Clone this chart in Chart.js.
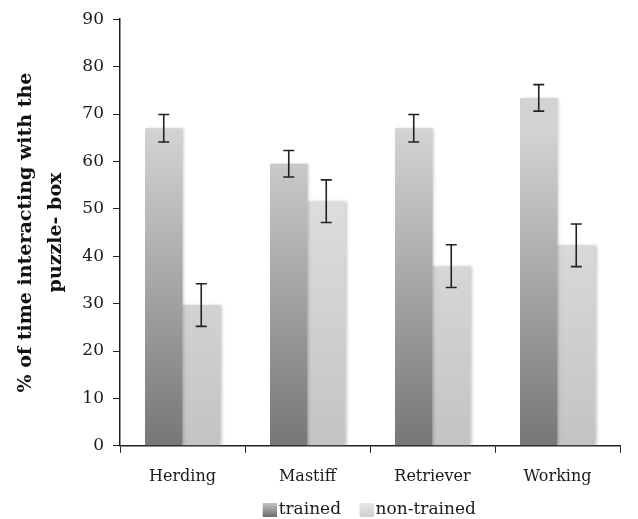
<!DOCTYPE html>
<html>
<head>
<meta charset="utf-8">
<script src="https://cdn.jsdelivr.net/npm/chart.js@4"></script>
<style>
  html, body { margin: 0; padding: 0; background: #fff; }
  #wrap { width: 638px; height: 519px; }
</style>
</head>
<body>
<div id="wrap"><canvas id="chart"></canvas></div>
<script>
const categories = ['Herding', 'Mastiff', 'Retriever', 'Working'];
const trained = [67.0, 59.5, 67.0, 73.4];
const trainedErr = [2.9, 2.8, 2.9, 2.8];
const nonTrained = [29.7, 51.6, 37.9, 42.3];
const nonTrainedErr = [4.5, 4.5, 4.5, 4.5];
const yTicks = [0, 10, 20, 30, 40, 50, 60, 70, 80, 90];

const FONT = "'DejaVu Serif', serif";

function barGradient(ctx, area, dark, light) {
  const g = ctx.createLinearGradient(0, area.bottom, 0, area.top + 110);
  g.addColorStop(0, dark);
  g.addColorStop(1, light);
  return g;
}

// legend swatch: 14px box at the right end of a wider transparent image,
// so it sits close to its text with more room before it
function legendBox(dark, light) {
  const c = document.createElement('canvas');
  c.width = 35; c.height = 14;
  const x = c.getContext('2d');
  const g = x.createLinearGradient(0, 14, 0, 0);
  g.addColorStop(0, dark);
  g.addColorStop(1, light);
  x.fillStyle = g;
  x.fillRect(21, 0, 14, 14);
  return c;
}

const errorBars = {
  id: 'errorBars',
  afterDatasetsDraw(chart) {
    const ctx = chart.ctx;
    const y = chart.scales.y;
    ctx.save();
    ctx.strokeStyle = '#222';
    ctx.lineWidth = 1.6;
    chart.data.datasets.forEach((ds, i) => {
      const meta = chart.getDatasetMeta(i);
      meta.data.forEach((bar, j) => {
        const top = y.getPixelForValue(ds.data[j] + ds.errors[j]);
        const bot = y.getPixelForValue(ds.data[j] - ds.errors[j]);
        const x = bar.x;
        ctx.beginPath();
        ctx.moveTo(x, top); ctx.lineTo(x, bot);
        ctx.moveTo(x - 5.5, top); ctx.lineTo(x + 5.5, top);
        ctx.moveTo(x - 5.5, bot); ctx.lineTo(x + 5.5, bot);
        ctx.stroke();
      });
    });
    ctx.restore();
  }
};

const barShadow = {
  id: 'barShadow',
  beforeDatasetsDraw(chart) {
    const ctx = chart.ctx;
    ctx.save();
    ctx.shadowColor = 'rgba(0,0,0,0.22)';
    ctx.shadowBlur = 3;
    ctx.shadowOffsetX = 1.5;
    ctx.shadowOffsetY = 0;
  },
  afterDatasetsDraw(chart) {
    chart.ctx.restore();
  }
};

// centre the legend under the plot area rather than the whole canvas
const legendShift = {
  id: 'legendShift',
  afterLayout(chart) {
    const lg = chart.legend;
    const a = chart.chartArea;
    if (!lg || !a) return;
    const dx = (a.left + a.right) / 2 - (lg.left + lg.right) / 2 - 8;
    lg.left += dx;
    lg.right += dx;
    lg.top += 9;
    lg.bottom += 9;
  }
};

new Chart(document.getElementById('chart'), {
  type: 'bar',
  data: {
    labels: categories,
    datasets: [
      {
        label: 'trained',
        data: trained,
        errors: trainedErr,
        backgroundColor: (c) => {
          const a = c.chart.chartArea;
          if (!a) return '#aaa';
          return barGradient(c.chart.ctx, a, '#777777', '#d3d3d3');
        },
        categoryPercentage: 0.6,
        barPercentage: 1.0,
      },
      {
        label: 'non-trained',
        data: nonTrained,
        errors: nonTrainedErr,
        backgroundColor: (c) => {
          const a = c.chart.chartArea;
          if (!a) return '#ddd';
          return barGradient(c.chart.ctx, a, '#c3c3c3', '#e5e5e5');
        },
        categoryPercentage: 0.6,
        barPercentage: 1.0,
      },
    ],
  },
  options: {
    responsive: true,
    maintainAspectRatio: false,
    animation: false,
    layout: { padding: { top: 10, right: 18, left: 8, bottom: 0 } },
    plugins: {
      tooltip: { enabled: false },
      legend: {
        position: 'bottom',
        labels: {
          font: { family: FONT, size: 17 },
          color: '#1a1a1a',
          usePointStyle: true,
          pointStyleWidth: 22,
          padding: 4,
          generateLabels: (chart) => [
            { text: 'trained', pointStyle: legendBox('#6f6f6f', '#c8c8c8'), datasetIndex: 0, lineWidth: 0, strokeStyle: 'transparent', fontColor: '#1a1a1a' },
            { text: 'non-trained', pointStyle: legendBox('#cfcfcf', '#e8e8e8'), datasetIndex: 1, lineWidth: 0, strokeStyle: 'transparent', fontColor: '#1a1a1a' },
          ],
        },
      },
    },
    scales: {
      x: {
        afterFit: (s) => { s.height -= 12; },
        grid: {
          drawOnChartArea: false, drawTicks: true, tickLength: 7, offset: true,
          color: (c) => (c.index === categories.length ? 'rgba(0,0,0,0)' : '#222'),
        },
        border: { color: '#222', width: 1.5 },
        ticks: { font: { family: FONT, size: 16 }, color: '#1a1a1a', padding: 14 },
      },
      y: {
        min: 0,
        max: 90,
        afterBuildTicks: (s) => { s.ticks = yTicks.map((v) => ({ value: v })); },
        afterFit: (s) => { s.width = 112; },
        grid: { drawOnChartArea: false, drawTicks: true, tickLength: 7, color: '#222' },
        border: { color: '#222', width: 1.5 },
        ticks: { font: { family: FONT, size: 17 }, color: '#1a1a1a', padding: 9 },
        title: {
          display: true,
          text: ['% of time interacting with the', 'puzzle- box'],
          font: { family: FONT, size: 19, weight: 'bold', lineHeight: 1.58 },
          color: '#111',
          padding: { top: 3, bottom: 4 },
        },
      },
    },
  },
  plugins: [barShadow, errorBars, legendShift],
});
</script>
</body>
</html>
